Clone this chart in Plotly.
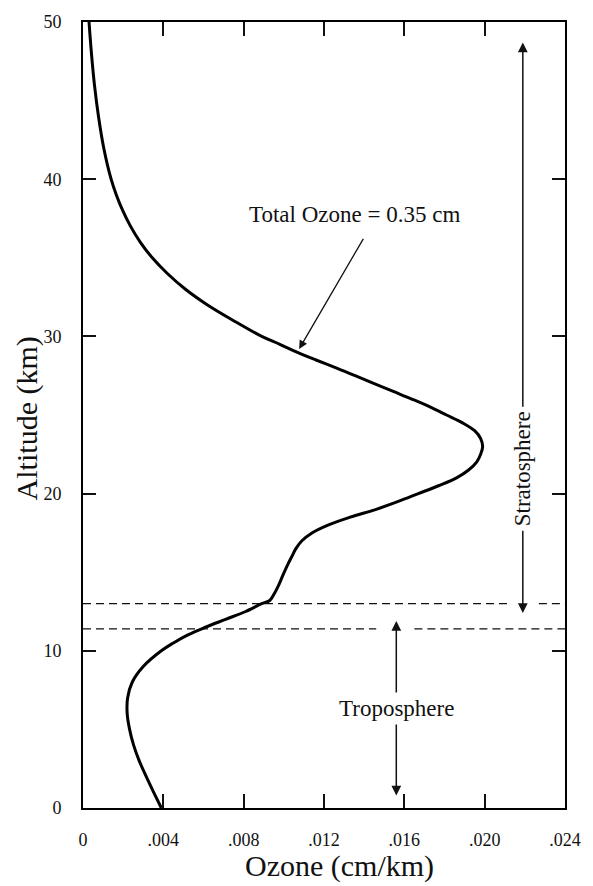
import plotly.graph_objects as go

# Ozone profile (cm/km) vs altitude (km)
altitude = [0, 1, 2, 3, 4, 5, 6, 7, 8, 9, 10, 10.5, 11, 11.5, 12, 12.5, 13.0, 13.2,
            13.7, 14.2, 14.8, 15.5, 16.0, 16.5, 17.0, 17.5, 18.0, 18.5, 19.0, 19.5,
            20.0, 20.5, 21.0, 21.5, 22.0, 22.5, 23.0, 23.5, 24.0, 24.5, 25.0, 25.5,
            26.0, 26.5, 27.0, 27.5, 28.0, 28.5, 29.0, 29.5, 30.0, 31.0, 32.0, 33.0,
            34.0, 35.0, 36.0, 37.0, 38.0, 39.0, 40.0, 42.0, 44.0, 46.0, 48.0, 50.0]
ozone = [.0039, .00352, .00315, .0028, .00252, .00232, .0022, .00222, .00245, .0030,
         .0039, .0045, .0052, .0061, .0071, .0081, .0089, .0093,
         .00955, .00975, .00995, .0102, .0104, .0106, .0109, .0114, .0122, .0133, .0146,
         .0157, .0167, .0177, .0186, .0192, .0196, .0198, .0199, .0198, .0195, .0189,
         .0181, .0173, .0164, .01545, .0145, .01355, .0126, .0116, .01065, .0098, .0089,
         .0075, .0062, .0051, .0042, .00345, .00285, .00237, .00198, .00166, .0014,
         .00103, .00077, .00057, .00042, .0003]

x_tickvals = [0, .004, .008, .012, .016, .020, .024]
x_ticktext = ["0", ".004", ".008", ".012", ".016", ".020", ".024"]
y_tickvals = [0, 10, 20, 30, 40, 50]

tropopause_upper = 13.0
tropopause_lower = 11.4
strat_arrow_x = 0.0219
strat_arrow_range = [12.4, 48.7]
strat_label_alt = 21.6
trop_arrow_x = 0.0156
trop_arrow_range = [0.8, 11.9]
trop_label_alt = 6.3
total_label = (0.0135, 37.75)
total_arrow_tail = (0.0140, 36.3)
total_arrow_head = (0.01076, 29.2)

FONT = "Liberation Serif"
INK = "#111111"

fig = go.Figure()

# dashed tropopause lines (broken where arrowheads sit)
for alt, gap in [(tropopause_upper, (0.0212, 0.0227)), (tropopause_lower, (0.0146, 0.0165))]:
    for seg in [(0, gap[0]), (gap[1], 0.024)]:
        fig.add_trace(go.Scatter(x=list(seg), y=[alt, alt], mode="lines",
                                 line=dict(color=INK, width=1.3, dash="8px,5px"),
                                 hoverinfo="skip", showlegend=False))

fig.add_trace(go.Scatter(x=ozone, y=altitude, mode="lines",
                         line=dict(color="black", width=3, shape="spline", smoothing=1.0),
                         showlegend=False))

annotations = []
# Stratosphere double arrow
for tip in strat_arrow_range:
    annotations.append(dict(x=strat_arrow_x, y=tip, ax=strat_arrow_x, ay=strat_label_alt,
                            xref="x", yref="y", axref="x", ayref="y", text="",
                            showarrow=True, arrowhead=2, arrowsize=1.3, arrowwidth=1.5,
                            arrowcolor=INK))
annotations.append(dict(x=strat_arrow_x, y=strat_label_alt, xref="x", yref="y",
                        text="Stratosphere", textangle=-90, showarrow=False,
                        bgcolor="white", borderpad=4,
                        font=dict(family=FONT, size=23, color=INK)))
# Troposphere double arrow
for tip in trop_arrow_range:
    annotations.append(dict(x=trop_arrow_x, y=tip, ax=trop_arrow_x, ay=trop_label_alt,
                            xref="x", yref="y", axref="x", ayref="y", text="",
                            showarrow=True, arrowhead=2, arrowsize=1.3, arrowwidth=1.5,
                            arrowcolor=INK))
annotations.append(dict(x=trop_arrow_x, y=trop_label_alt, xref="x", yref="y",
                        text="Troposphere", showarrow=False, bgcolor="white", borderpad=3,
                        font=dict(family=FONT, size=23, color=INK)))
# Total ozone label with arrow
annotations.append(dict(x=total_arrow_head[0], y=total_arrow_head[1],
                        ax=total_arrow_tail[0], ay=total_arrow_tail[1],
                        xref="x", yref="y", axref="x", ayref="y", text="",
                        showarrow=True, arrowhead=2, arrowsize=1.3, arrowwidth=1.3,
                        arrowcolor=INK))
annotations.append(dict(x=total_label[0], y=total_label[1], xref="x", yref="y",
                        text="Total Ozone = 0.35 cm", showarrow=False,
                        font=dict(family=FONT, size=23, color=INK)))
# axis titles
annotations.append(dict(x=-0.1157, y=0.496, xref="paper", yref="paper",
                        xanchor="center", yanchor="middle", borderpad=0,
                        text="Altitude (km)", textangle=-90, showarrow=False,
                        font=dict(family=FONT, size=30, color=INK)))
annotations.append(dict(x=0.533, y=-0.0732, xref="paper", yref="paper",
                        xanchor="center", yanchor="middle", borderpad=0,
                        text="Ozone (cm/km)", showarrow=False,
                        font=dict(family=FONT, size=30, color=INK)))

axis_common = dict(showline=True, linecolor="black", linewidth=2, mirror="ticks",
                   ticks="inside", tickcolor=INK, tickwidth=1.5, showgrid=False,
                   zeroline=False, tickfont=dict(family=FONT, size=18, color=INK))

fig.update_layout(
    width=593, height=886,
    margin=dict(l=83, r=26, t=16, b=78),
    paper_bgcolor="white", plot_bgcolor="white",
    xaxis=dict(range=[0, 0.024], tickvals=x_tickvals, ticktext=x_ticktext,
               ticklen=14, ticklabelstandoff=14, **axis_common),
    yaxis=dict(range=[0, 50], tickvals=y_tickvals, ticklen=13,
               ticklabelstandoff=16, **axis_common),
    annotations=annotations,
)

fig.write_html("out.html")
